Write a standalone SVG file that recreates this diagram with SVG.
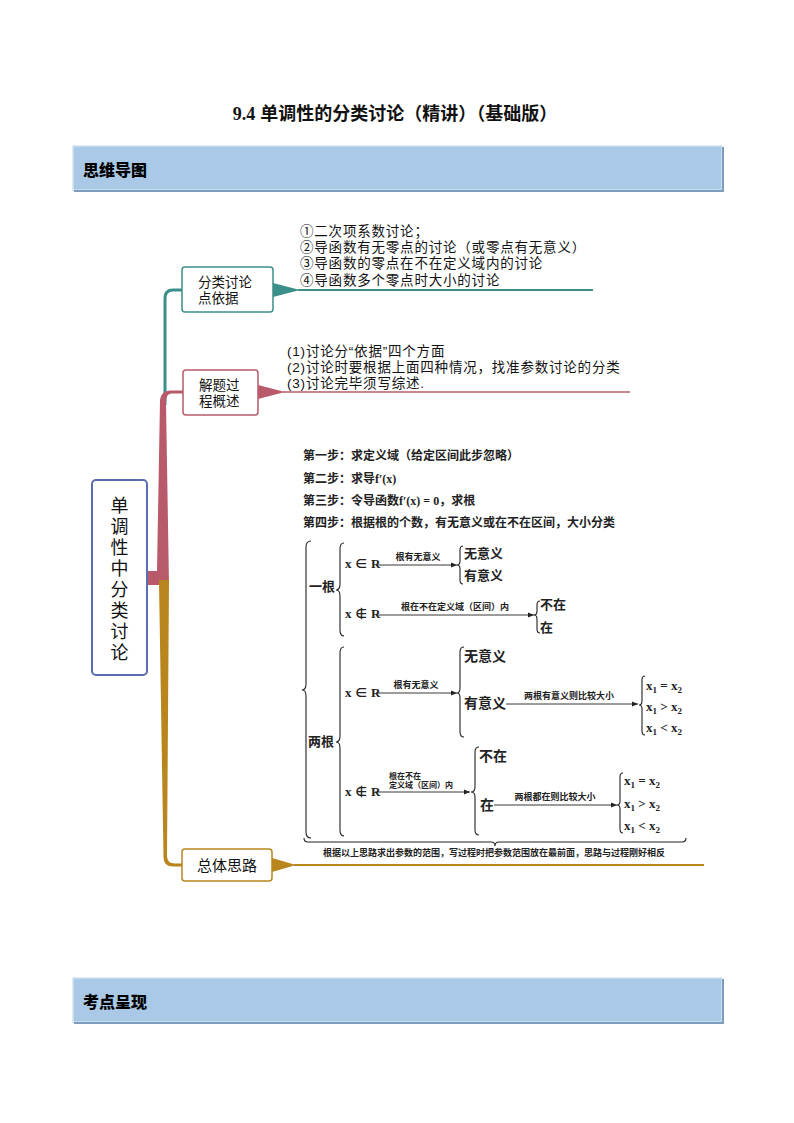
<svg xmlns="http://www.w3.org/2000/svg" width="794" height="1123" viewBox="0 0 794 1123">
<defs>
<marker id="ah" markerWidth="7" markerHeight="6" refX="6" refY="3" orient="auto" markerUnits="userSpaceOnUse">
<path d="M0,0.5 L6,3 L0,5.5 Z" fill="#222"/>
</marker>
<style>
.sans{font-family:"Liberation Sans","Noto Sans CJK SC",sans-serif;fill:#111}
.cjk{font-family:"Noto Sans CJK SC",sans-serif;fill:#111}
.ser{font-family:"Liberation Serif","Noto Sans CJK SC",serif;fill:#222;font-weight:bold}
.hdr{fill:#a9c9e7;stroke:#d3e2f1;stroke-width:1.5}
.hdrsh{fill:none;stroke:#7d9dbf;stroke-width:2}
.hdrtxt{font-family:"Noto Sans CJK SC",sans-serif;font-weight:900;font-size:16px;fill:#000}
.br{fill:none;stroke:#222;stroke-width:1.1}
.arr{stroke:#222;stroke-width:0.9;marker-end:url(#ah)}
.lbl{font-size:9px}
.list{letter-spacing:0.8px}
</style>
</defs>
<rect width="794" height="1123" fill="#fff"/>

<text x="395" y="120" text-anchor="middle" class="sans" font-size="18" font-weight="bold"><tspan font-family="Liberation Serif">9.4</tspan>  单调性的分类讨论（精讲）（基础版）</text>

<g id="header1">
<rect x="73" y="146" width="649" height="44" class="hdr"/>
<path d="M74 191 L723 191 L723 147" class="hdrsh"/>
<text x="83" y="176" class="hdrtxt">思维导图</text>
</g>
<g id="header2">
<rect x="73" y="978" width="649" height="44" class="hdr"/>
<path d="M74 1023 L723 1023 L723 979" class="hdrsh"/>
<text x="83" y="1008" class="hdrtxt">考点呈现</text>
</g>

<g id="connectors">
<path d="M165 405 L165 298 Q165 290 173 290 L183 290" fill="none" stroke="#3a8f8a" stroke-width="3"/>
<path d="M147 571 L157 571 L160 400 Q161 391 170 390.5 L183 390.5 L183 393.5 L171 393.5 Q166 394 166 402 L169 585 L147 585 Z" fill="#b95a6a"/>
<path d="M159 580 L169 580 L167 856 Q167 863.5 175 863.5 L182 863.5 L182 866.5 L173 866.5 Q163.5 866.5 163.5 857 L159 582 Z" fill="#b8861c"/>
<path d="M273 283 L300 290 L273 297 Z" fill="#3a8f8a"/>
<line x1="298" y1="290" x2="593" y2="290" stroke="#3a8f8a" stroke-width="2"/>
<path d="M258 385 L285 392 L258 399 Z" fill="#b95a6a"/>
<line x1="283" y1="392" x2="630" y2="392" stroke="#b95a6a" stroke-width="1.6"/>
<path d="M272 858 L296 865 L272 872 Z" fill="#b8861c"/>
<line x1="294" y1="865" x2="704" y2="865" stroke="#b8861c" stroke-width="2"/>
</g>

<g id="center">
<rect x="92" y="480" width="55" height="195" rx="4" fill="#fff" stroke="#5a6db0" stroke-width="2"/>
<g class="sans" font-size="18" text-anchor="middle">
<text x="119.5" y="512">单</text>
<text x="119.5" y="533">调</text>
<text x="119.5" y="554">性</text>
<text x="119.5" y="575">中</text>
<text x="119.5" y="596">分</text>
<text x="119.5" y="617">类</text>
<text x="119.5" y="638">讨</text>
<text x="119.5" y="659">论</text>
</g>
</g>

<g id="node1">
<rect x="182" y="267" width="91" height="45" rx="3" fill="#fff" stroke="#3a8f8a" stroke-width="1.5"/>
<text x="198" y="287" class="sans" font-size="13.5">分类讨论</text>
<text x="198" y="303" class="sans" font-size="13.5">点依据</text>
</g>
<g id="node1-text" class="sans list" font-size="13.5">
<text x="300" y="236">①二次项系数讨论；</text>
<text x="300" y="252">②导函数有无零点的讨论（或零点有无意义）</text>
<text x="300" y="268">③导函数的零点在不在定义域内的讨论</text>
<text x="300" y="285">④导函数多个零点时大小的讨论</text>
</g>

<g id="node2">
<rect x="183" y="370" width="75" height="45" rx="3" fill="#fff" stroke="#b95a6a" stroke-width="1.5"/>
<text x="199" y="390" class="sans" font-size="13.5">解题过</text>
<text x="199" y="406" class="sans" font-size="13.5">程概述</text>
</g>
<g id="node2-text" class="sans list" font-size="13.5">
<text x="287" y="356">(1)讨论分“依据”四个方面</text>
<text x="287" y="372">(2)讨论时要根据上面四种情况，找准参数讨论的分类</text>
<text x="287" y="388">(3)讨论完毕须写综述.</text>
</g>

<g id="node3">
<rect x="182" y="849" width="90" height="32" rx="3" fill="#fff" stroke="#b8861c" stroke-width="1.5"/>
<text x="227" y="871" text-anchor="middle" class="cjk" font-size="15">总体思路</text>
</g>

<g id="flow">
<g class="ser" font-size="12">
<text x="303" y="460">第一步：求定义域（给定区间此步忽略）</text>
<text x="303" y="483">第二步：求导f′(x)</text>
<text x="303" y="505">第三步：令导函数f′(x) = 0，求根</text>
<text x="303" y="527">第四步：根据根的个数，有无意义或在不在区间，大小分类</text>
</g>
<path class="br" d="M311 541 Q306 541 306 547 L306 684 Q306 690 302 690 Q306 690 306 696 L306 832 Q306 838 311 838"/>
<text x="309" y="591" class="ser" font-size="13">一根</text>
<path class="br" d="M344 543 Q340 543 340 549 L340 584 Q340 590 336 590 Q340 590 340 596 L340 630 Q340 636 344 636"/>
<text x="345" y="568" class="ser" font-size="13">x ∈ R</text>
<line x1="377" y1="565" x2="457" y2="565" class="arr"/>
<text x="418" y="560" text-anchor="middle" class="ser lbl">根有无意义</text>
<path class="br" d="M463 546 Q460 546 460 550 L460 561 Q460 565 457 565 Q460 565 460 569 L460 580 Q460 584 463 584"/>
<text x="464" y="558" class="ser" font-size="13">无意义</text>
<text x="464" y="580" class="ser" font-size="13">有意义</text>
<text x="345" y="618" class="ser" font-size="13">x ∉ R</text>
<line x1="377" y1="615" x2="534" y2="615" class="arr"/>
<text x="455" y="610" text-anchor="middle" class="ser lbl">根在不在定义域（区间）内</text>
<path class="br" d="M540 601 Q537 601 537 605 L537 611 Q537 615 534 615 Q537 615 537 619 L537 629 Q537 633 540 633"/>
<text x="540" y="609" class="ser" font-size="13">不在</text>
<text x="540" y="632" class="ser" font-size="13">在</text>

<path class="br" d="M344 647 Q340 647 340 653 L340 736 Q340 742 336 742 Q340 742 340 748 L340 830 Q340 836 344 836"/>
<text x="308" y="746" class="ser" font-size="13">两根</text>
<text x="345" y="697" class="ser" font-size="13">x ∈ R</text>
<line x1="376" y1="693" x2="457" y2="693" class="arr"/>
<text x="416" y="688" text-anchor="middle" class="ser lbl">根有无意义</text>
<path class="br" d="M464 647 Q460 647 460 652 L460 688 Q460 693 457 693 Q460 693 460 698 L460 732 Q460 737 464 737"/>
<text x="464" y="661" class="ser" font-size="14">无意义</text>
<text x="464" y="708" class="ser" font-size="14">有意义</text>
<line x1="506" y1="704" x2="638" y2="704" class="arr"/>
<text x="569" y="699" text-anchor="middle" class="ser lbl">两根有意义则比较大小</text>
<path class="br" d="M645 676 Q642 676 642 680 L642 701 Q642 705 639 705 Q642 705 642 709 L642 731 Q642 735 645 735"/>
<g class="ser" font-size="13">
<text x="646" y="690">x<tspan font-size="9" dy="3">1</tspan><tspan dy="-3"> = x</tspan><tspan font-size="9" dy="3">2</tspan></text>
<text x="646" y="711">x<tspan font-size="9" dy="3">1</tspan><tspan dy="-3"> &gt; x</tspan><tspan font-size="9" dy="3">2</tspan></text>
<text x="646" y="732">x<tspan font-size="9" dy="3">1</tspan><tspan dy="-3"> &lt; x</tspan><tspan font-size="9" dy="3">2</tspan></text>
</g>
<text x="345" y="796" class="ser" font-size="13">x ∉ R</text>
<line x1="375" y1="792" x2="470" y2="792" class="arr"/>
<text x="389" y="779" class="ser" font-size="8">根在不在</text>
<text x="389" y="788" class="ser" font-size="8">定义域（区间）内</text>
<path class="br" d="M479 747 Q475 747 475 752 L475 787 Q475 792 471 792 Q475 792 475 797 L475 830 Q475 835 479 835"/>
<text x="479" y="761" class="ser" font-size="14">不在</text>
<text x="480" y="810" class="ser" font-size="14">在</text>
<line x1="494" y1="805" x2="617" y2="805" class="arr"/>
<text x="555" y="800" text-anchor="middle" class="ser lbl">两根都在则比较大小</text>
<path class="br" d="M623 773 Q620 773 620 777 L620 801 Q620 805 617 805 Q620 805 620 809 L620 829 Q620 833 623 833"/>
<g class="ser" font-size="13">
<text x="624" y="785">x<tspan font-size="9" dy="3">1</tspan><tspan dy="-3"> = x</tspan><tspan font-size="9" dy="3">2</tspan></text>
<text x="624" y="808">x<tspan font-size="9" dy="3">1</tspan><tspan dy="-3"> &gt; x</tspan><tspan font-size="9" dy="3">2</tspan></text>
<text x="624" y="830">x<tspan font-size="9" dy="3">1</tspan><tspan dy="-3"> &lt; x</tspan><tspan font-size="9" dy="3">2</tspan></text>
</g>
<path class="br" d="M304 838 Q304 842 308 842 L491 842 Q495 842 495 846 Q495 842 499 842 L682 842 Q686 842 686 838"/>
<text x="494" y="856" text-anchor="middle" class="ser" font-size="9">根据以上思路求出参数的范围，写过程时把参数范围放在最前面，思路与过程刚好相反</text>
</g>
</svg>
